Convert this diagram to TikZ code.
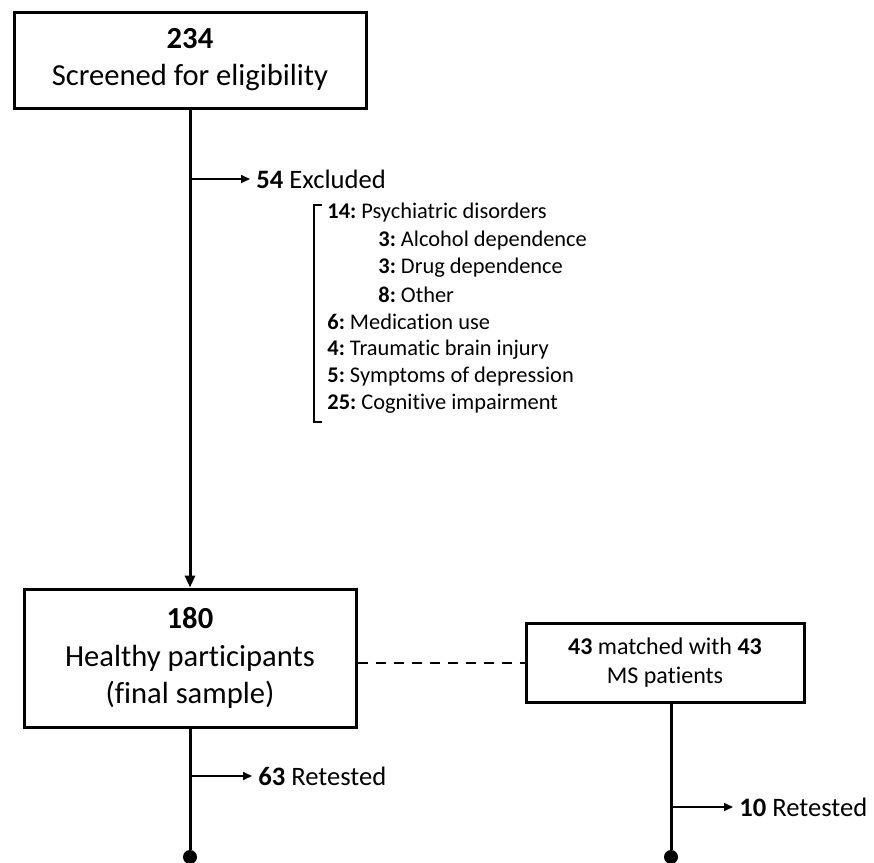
\documentclass[tikz,border=0pt]{standalone}
\usepackage{fontspec}
\setmainfont{Carlito}[Ligatures=NoCommon]
\usetikzlibrary{arrows.meta}

\begin{document}
\begin{tikzpicture}[
    x=0.5pt,y=-0.5pt,
    box/.style={draw,line width=1.5pt,align=center,inner sep=0pt},
    flow/.style={black,line width=1.5pt},
    branch/.style={black,line width=0.8pt,-{Triangle[length=4.5pt,width=4pt]}},
    note/.style={anchor=west,inner sep=3pt,font=\fontsize{13.3}{16}\selectfont},
    reason/.style={anchor=west,inner sep=0pt,font=\fontsize{11.2}{13}\selectfont},
    endpt/.style={circle,fill,inner sep=0pt,minimum size=7pt}
]
    \useasboundingbox (0,0) rectangle (874,863);

    % Boxes
    \node[box,minimum width=176pt,minimum height=48pt,font=\fontsize{15.3}{18.5}\selectfont] (screened) at (190,60) {\textbf{234}\\Screened for eligibility};
    \node[box,minimum width=166pt,minimum height=69pt,font=\fontsize{15.3}{18.75}\selectfont] (final) at (190,658) {\textbf{180}\\Healthy participants\\(final sample)};
    \node[box,minimum width=139pt,minimum height=39.5pt,font=\fontsize{12}{14.5}\selectfont] (matched) at (665,662.5) {\textbf{43} matched with \textbf{43}\\MS patients};

    % Exclusions
    \coordinate (b0) at (190,179);
    \node[note] (excluded) at (250,179) {\textbf{54} Excluded};
    \draw[branch] (b0) -- (excluded.west);
    \foreach \i/\ind/\num/\txt in {0/0/14/Psychiatric disorders,1/1/3/Alcohol dependence,2/1/3/Drug dependence,3/1/8/Other,4/0/6/Medication use,5/0/4/Traumatic brain injury,6/0/5/Symptoms of depression,7/0/25/Cognitive impairment} {
        \node[reason] (r\i) at (327+51*\ind,213+27.3*\i) {\textbf{\num:}~\txt};
    }
    \draw[line width=0.6pt] (322,205) -| (314,422) -- (322,422);

    % Main flow
    \draw[flow,-{Triangle[length=6pt,width=5pt]}] (screened.south) -- (final.north);
    \draw[black,line width=1pt,dash pattern=on 5pt off 4pt] (final.east |- matched.west) -- (matched.west);

    % Retests
    \node[endpt] (end1) at (190,857) {};
    \draw[flow] (final.south) -- (end1);
    \coordinate (b1) at (190,776);
    \node[note] (retest1) at (252,776) {\textbf{63} Retested};
    \draw[branch] (b1) -- (retest1.west);

    \node[endpt] (end2) at (671,857) {};
    \draw[flow] (matched.south -| end2) -- (end2);
    \coordinate (b2) at (671,807);
    \node[note] (retest2) at (733,807) {\textbf{10} Retested};
    \draw[branch] (b2) -- (retest2.west);
\end{tikzpicture}
\end{document}
